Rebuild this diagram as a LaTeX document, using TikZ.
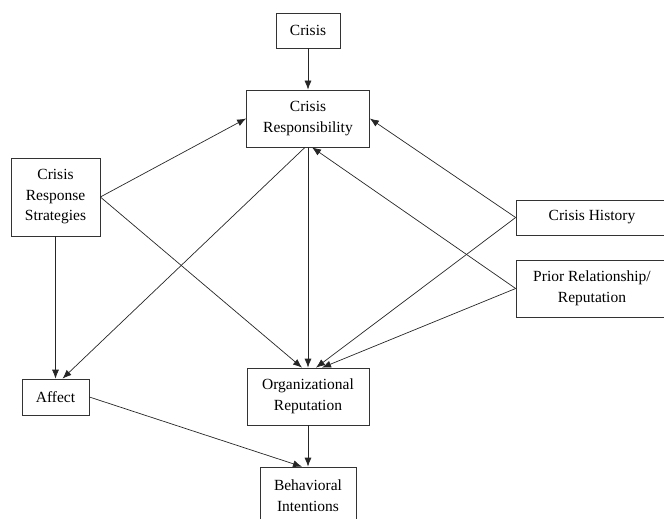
\documentclass[tikz,border=0pt]{standalone}
\usepackage{fontspec}
\setmainfont{Liberation Serif}
\usepackage{tikz}
\usetikzlibrary{arrows.meta}

\begin{document}
\begin{tikzpicture}[x=1pt, y=-1pt, font=\fontsize{15.5}{20.5}\selectfont, >={Latex[length=9pt,width=7pt]},
  caixa/.style={draw=black!80, line width=0.7pt, align=center, inner sep=0pt},
  arr/.style={->, line width=0.7pt, draw=black!85}]
  \clip (0,0) rectangle (664,519);
  \node[caixa, minimum width=64pt, minimum height=35pt] (crisis) at (308,30.5) {Crisis};
  \node[caixa, minimum width=123pt, minimum height=57pt] (resp) at (308,118.5) {Crisis\\Responsibility};
  \node[caixa, minimum width=89pt, minimum height=78pt] (strat) at (55.5,197) {Crisis\\Response\\Strategies};
  \node[caixa, minimum width=152pt, minimum height=35pt] (hist) at (592,217.5) {Crisis History};
  \node[caixa, minimum width=152pt, minimum height=57pt] (prior) at (592,288.5) {Prior Relationship/\\Reputation};
  \node[caixa, minimum width=67pt, minimum height=36pt] (affect) at (55.5,397) {Affect};
  \node[caixa, minimum width=122pt, minimum height=57pt] (orgrep) at (308,396.5) {Organizational\\Reputation};
  \node[caixa, minimum width=96pt, minimum height=57pt] (intent) at (308,495.5) {Behavioral\\Intentions};
  \draw[arr] (crisis) -- (resp);
  \draw[arr] (strat.east) -- (resp.west);
  \draw[arr] (strat.east) -- ([xshift=-6pt]orgrep.north);
  \draw[arr] (strat) -- (affect);
  \draw[arr] ([xshift=-3pt]resp.south) -- ([xshift=7pt]affect.north);
  \draw[arr] (resp) -- (orgrep);
  \draw[arr] (hist.west) -- (resp.east);
  \draw[arr] (hist.west) -- ([xshift=8pt]orgrep.north);
  \draw[arr] (prior.west) -- ([xshift=4pt]resp.south);
  \draw[arr] (prior.west) -- ([xshift=14pt]orgrep.north);
  \draw[arr] (affect.east) -- ([xshift=-6pt]intent.north);
  \draw[arr] (orgrep) -- (intent);
\end{tikzpicture}
\end{document}
